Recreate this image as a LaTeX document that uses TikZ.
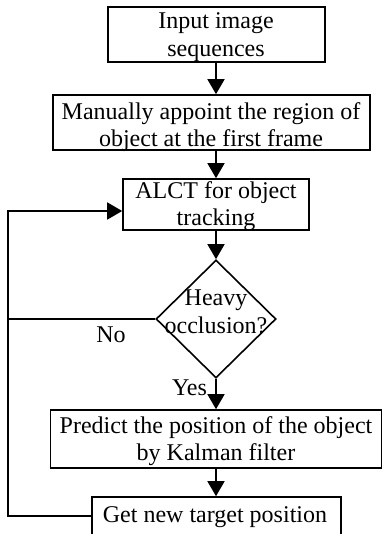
\documentclass[tikz,border=0pt]{standalone}
\usepackage{fontspec}
\setmainfont{Liberation Serif}
\usetikzlibrary{shapes.geometric,arrows.meta}
\begin{document}
\begin{tikzpicture}[x=1pt,y=-1pt,
  font=\fontsize{24}{27.5}\selectfont,
  every path/.style={line width=1.6pt},
  boxnode/.style={draw, rectangle, inner sep=0pt, line width=1.6pt},
  decnode/.style={draw, diamond, inner sep=0pt, line width=1.6pt},
  txt/.style={inner sep=0pt, align=center, anchor=north},
  lbl/.style={inner sep=0pt, anchor=base},
  arr/.style={-{Triangle[width=17pt,length=15pt]}}]
\useasboundingbox (0,0) rectangle (382,534);
% boxes
\node[boxnode, minimum width=217pt, minimum height=55pt] (a) at (216.5,34.5) {};
\node[boxnode, minimum width=317pt, minimum height=55pt] (b) at (211.5,122.5) {};
\node[boxnode, minimum width=186pt, minimum height=51pt] (c) at (216,204.5) {};
\node[decnode, minimum width=120pt, minimum height=118pt] (d) at (216,319) {};
\node[boxnode, minimum width=331pt, minimum height=58pt] (e) at (216,439) {};
\node[boxnode, minimum width=249pt, minimum height=38pt] (f) at (216.5,516) {};
% texts
\node[txt] (at) at (216,12) {Input image\\sequences};
\node[txt] (bt) at (211,101.8) {Manually appoint the region of\\object at the first frame};
\node[txt] (ct) at (216,180.8) {ALCT for object\\tracking};
\node[txt] (dt) at (216,289) {Heavy\\occlusion?};
\node[txt] (et) at (216,415.6) {Predict the position of the object\\by Kalman filter};
\node[txt] (ft) at (215,505.8) {Get new target position};
\node[lbl] (no) at (111,342) {No};
\node[lbl] (yes) at (189.5,395) {Yes};
% loop corners
\coordinate (l1) at (8,516);
\coordinate (l2) at (8,211);
\coordinate (l3) at (8,319);
% connectors
\draw[arr] (a.south -| c.north) -- (b.north -| c.north);
\draw[arr] (b.south -| c.north) -- (c.north);
\draw[arr] (c.south) -- (d.north);
\draw[arr] (d.south) -- (e.north);
\draw[arr] (e.south) -- (f.north -| e.south);
\draw[arr] (f.west) -- (l1) -- (l2) -- (c.west |- l2);
\draw (d.west) -- (l3);
\end{tikzpicture}
\end{document}
